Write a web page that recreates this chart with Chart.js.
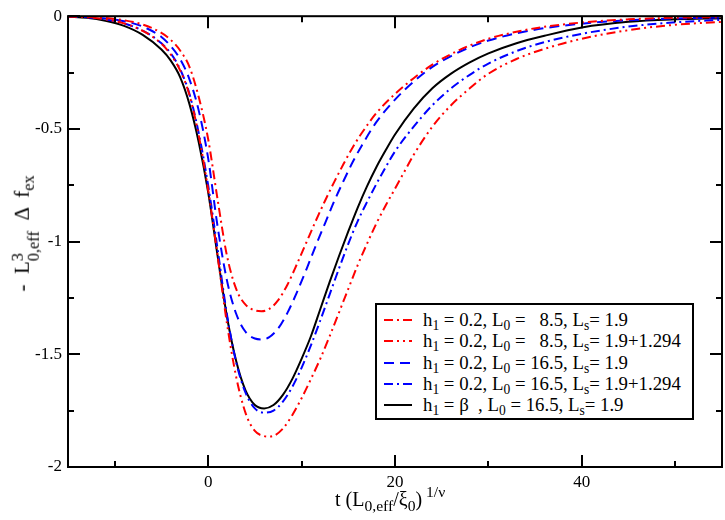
<!DOCTYPE html>
<html>
<head>
<meta charset="utf-8">
<script src="https://cdn.jsdelivr.net/npm/chart.js@4/dist/chart.umd.min.js"></script>
<style>
  html, body { margin: 0; padding: 0; background: #fff; }
  #wrap { position: relative; width: 725px; height: 520px; font-family: "Liberation Serif", "Times New Roman", Times, serif; color: #000; }
  #c { position: absolute; left: 0; top: 0; }
  .title { position: absolute; font-size: 20px; white-space: pre; line-height: 1; }
  #ytitle { font-size: 21px; }
  .title sub { font-size: 0.78em; vertical-align: -0.3em; line-height: 0; }
  .title sup { font-size: 0.78em; vertical-align: 0.6em; line-height: 0; }
  .ss { display: inline-block; vertical-align: -0.62em; font-size: 0.78em; line-height: 1.0; }
  .ss span { display: block; }
  #legend { position: absolute; left: 375px; top: 303px; width: 315px; height: 113px; border: 2px solid #000; background: #fff; }
  .row { position: absolute; left: 0; height: 21px; width: 315px; font-size: 18.8px; white-space: pre; line-height: 21px; }
  .row sub { font-size: 0.72em; vertical-align: -0.3em; line-height: 0; }
  .row svg { position: absolute; left: 6px; top: 0; }
  .row .txt { position: absolute; left: 46px; top: 0; }
</style>
</head>
<body>
<div id="wrap">
  <canvas id="c" width="725" height="520"></canvas>
  <div class="title" id="xtitle">t (L<sub>0,eff</sub>/ξ<sub>0</sub>)<sup> 1/ν</sup></div>
  <div class="title" id="ytitle">-  L<span class="ss"><span>3</span><span>0,eff</span></span>  Δ  f<sub>ex</sub></div>
  <div id="legend"></div>
</div>
<script>
// ---- data ----
// h1 = 0.2, L0 = 8.5, Ls = 1.9  (red dash-dot)
const xA = [-15,-13,-11,-9,-7,-5,-4,-3,-2,-1,0,1,2,3,4,5,5.7,6.5,7.5,8.5,9.5,10.5,11.5,12.5,13.5,14.5,15.5,16.5,18,20,22,24,26,28,30,33,36,40,45,50,55];
const yA = [-0.001,-0.003,-0.008,-0.018,-0.037,-0.074,-0.105,-0.152,-0.225,-0.36,-0.545,-0.81,-1.06,-1.21,-1.28,-1.305,-1.309,-1.3,-1.26,-1.19,-1.1,-1.005,-0.91,-0.82,-0.735,-0.655,-0.58,-0.515,-0.43,-0.345,-0.275,-0.215,-0.168,-0.13,-0.1,-0.069,-0.047,-0.028,-0.014,-0.007,-0.004];
// h1 = 0.2, L0 = 8.5, Ls = 1.9+1.294  (red dash-dot-dot)
const xB = [-15,-13,-11,-9,-7,-5,-4,-3,-2,-1,0,1,2,3,4,5,6,6.5,7,8,9,10,11,12,13,14,15,16,17,18,19,20,21,22,24,26,28,30,33,36,40,45,50,55];
const yB = [-0.001,-0.005,-0.014,-0.032,-0.065,-0.122,-0.17,-0.24,-0.35,-0.53,-0.77,-1.06,-1.36,-1.6,-1.76,-1.84,-1.863,-1.865,-1.862,-1.83,-1.77,-1.695,-1.61,-1.52,-1.42,-1.315,-1.21,-1.105,-1.01,-0.92,-0.84,-0.765,-0.69,-0.615,-0.49,-0.395,-0.32,-0.255,-0.19,-0.145,-0.1,-0.062,-0.038,-0.025];
// h1 = 0.2, L0 = 16.5, Ls = 1.9  (blue dashed)
const xC = [-15,-13,-11,-9,-7,-5,-4,-3,-2,-1,0,1,2,3,4,5,5.7,6.5,7.5,8.5,9.5,10.5,11.5,12.5,13.5,14.5,15.5,16.5,18,20,22,24,26,28,30,33,36,40,45,50,55];
const yC = [-0.001,-0.004,-0.01,-0.022,-0.046,-0.092,-0.133,-0.19,-0.28,-0.42,-0.63,-0.93,-1.17,-1.32,-1.4,-1.43,-1.434,-1.425,-1.385,-1.315,-1.225,-1.125,-1.02,-0.92,-0.82,-0.73,-0.645,-0.57,-0.47,-0.37,-0.29,-0.225,-0.177,-0.138,-0.108,-0.076,-0.053,-0.033,-0.018,-0.01,-0.006];
// h1 = 0.2, L0 = 16.5, Ls = 1.9+1.294  (blue dash-dot)
const xD = [-15,-13,-11,-9,-7,-5,-4,-3,-2,-1,0,1,2,3,4,5,6,7,8,9,10,11,12,13,14,15,16,17,18,19,20,22,24,26,28,30,33,36,40,45,50,55];
const yD = [-0.001,-0.005,-0.014,-0.032,-0.064,-0.12,-0.165,-0.235,-0.345,-0.52,-0.75,-1.03,-1.32,-1.535,-1.67,-1.74,-1.759,-1.75,-1.71,-1.645,-1.56,-1.46,-1.35,-1.235,-1.12,-1.01,-0.91,-0.825,-0.745,-0.67,-0.6,-0.49,-0.395,-0.32,-0.26,-0.21,-0.155,-0.115,-0.078,-0.046,-0.027,-0.016];
// h1 = beta, L0 = 16.5, Ls = 1.9  (black solid)
const xE = [-15,-13,-11,-9,-7,-5,-4,-3,-2,-1,0,1,2,3,4,5,6,7,8,9,10,11,12,13,14,15,16,17,18,19,20,22,24,26,28,30,33,36,40,45,50,55];
const yE = [-0.002,-0.007,-0.02,-0.043,-0.083,-0.148,-0.197,-0.27,-0.39,-0.56,-0.78,-1.06,-1.33,-1.53,-1.66,-1.725,-1.74,-1.725,-1.68,-1.61,-1.52,-1.42,-1.3,-1.18,-1.065,-0.955,-0.85,-0.755,-0.67,-0.595,-0.525,-0.41,-0.32,-0.255,-0.205,-0.165,-0.12,-0.087,-0.05,-0.025,-0.014,-0.009];

const xTickValues = [0, 20, 40];
const xMinorValues = [-10, 10, 30, 50];
const yTickValues = [0, -0.5, -1, -1.5, -2];
const yMinorValues = [-0.25, -0.75, -1.25, -1.75];
const seriesLabels = [
  'h<sub>1</sub> = 0.2, L<sub>0</sub> =   8.5, L<sub>s</sub>= 1.9',
  'h<sub>1</sub> = 0.2, L<sub>0</sub> =   8.5, L<sub>s</sub>= 1.9+1.294',
  'h<sub>1</sub> = 0.2, L<sub>0</sub> = 16.5, L<sub>s</sub>= 1.9',
  'h<sub>1</sub> = 0.2, L<sub>0</sub> = 16.5, L<sub>s</sub>= 1.9+1.294',
  'h<sub>1</sub> = β  , L<sub>0</sub> = 16.5, L<sub>s</sub>= 1.9'
];

// ---- styles ----
const styles = [
  { color: '#ff0000', dash: [9, 4, 2, 4] },
  { color: '#ff0000', dash: [9, 4, 2, 4, 2, 4] },
  { color: '#0000ff', dash: [10, 6] },
  { color: '#0000ff', dash: [9, 4, 2, 4] },
  { color: '#000000', dash: [] }
];
const series = [[xA, yA], [xB, yB], [xC, yC], [xD, yD], [xE, yE]];

const datasets = series.map((s, i) => ({
  label: seriesLabels[i].replace(/<[^>]+>/g, ''),
  data: s[0].map((x, k) => ({ x: x, y: s[1][k] })),
  showLine: true,
  borderColor: styles[i].color,
  borderDash: styles[i].dash,
  borderWidth: 2,
  pointRadius: 0,
  fill: false,
  cubicInterpolationMode: 'monotone'
}));

const fontTick = { family: '"Liberation Serif", "Times New Roman", Times, serif', size: 17 };

const framePlugin = {
  id: 'frame',
  afterDatasetsDraw(chart) {
    const { ctx, chartArea: a, scales } = chart;
    ctx.save();
    ctx.strokeStyle = '#000';
    ctx.lineWidth = 2;
    ctx.setLineDash([]);
    const xs = scales.x, ys = scales.y;
    const tick = (vals, len, horiz) => {
      vals.forEach(v => {
        if (horiz) {
          const px = Math.round(xs.getPixelForValue(v));
          ctx.beginPath(); ctx.moveTo(px, a.bottom); ctx.lineTo(px, a.bottom - len); ctx.stroke();
          ctx.beginPath(); ctx.moveTo(px, a.top); ctx.lineTo(px, a.top + len); ctx.stroke();
        } else {
          const py = Math.round(ys.getPixelForValue(v));
          ctx.beginPath(); ctx.moveTo(a.left, py); ctx.lineTo(a.left + len, py); ctx.stroke();
          ctx.beginPath(); ctx.moveTo(a.right, py); ctx.lineTo(a.right - len, py); ctx.stroke();
        }
      });
    };
    tick(xTickValues, 12, true);
    tick(xMinorValues, 6, true);
    tick(yTickValues, 12, false);
    tick(yMinorValues, 6, false);
    ctx.strokeRect(a.left, a.top, a.right - a.left, a.bottom - a.top);
    ctx.restore();
  }
};

new Chart(document.getElementById('c'), {
  type: 'scatter',
  data: { datasets },
  plugins: [framePlugin],
  options: {
    responsive: false,
    animation: false,
    layout: { padding: { top: 8, right: 3, left: 0, bottom: 0 } },
    plugins: { legend: { display: false }, tooltip: { enabled: false } },
    scales: {
      x: {
        type: 'linear', min: -15, max: 55,
        grid: { display: false, drawTicks: false },
        border: { display: false },
        ticks: { font: fontTick, color: '#000', padding: 5, maxRotation: 0, autoSkip: false },
        afterBuildTicks: s => { s.ticks = xTickValues.map(v => ({ value: v })); },
        afterFit: s => { s.height = 53; }
      },
      y: {
        type: 'linear', min: -2, max: 0,
        grid: { display: false, drawTicks: false },
        border: { display: false },
        ticks: { font: fontTick, color: '#000', padding: 6, autoSkip: false,
                 callback: v => String(v) },
        afterBuildTicks: s => { s.ticks = yTickValues.map(v => ({ value: v })); },
        afterFit: s => { s.width = 68; }
      }
    }
  }
});

// ---- HTML legend & titles ----
const legend = document.getElementById('legend');
seriesLabels.forEach((lab, i) => {
  const row = document.createElement('div');
  row.className = 'row';
  row.style.top = (4 + i * 21.3) + 'px';
  const st = styles[i];
  row.innerHTML = '<svg width="30" height="21"><line x1="1" y1="11" x2="29" y2="11" stroke="' + st.color +
    '" stroke-width="2" stroke-dasharray="' + (st.dash.length ? st.dash.join(' ') : 'none') + '"/></svg>' +
    '<span class="txt">' + lab + '</span>';
  legend.appendChild(row);
});
const xt = document.getElementById('xtitle');
xt.style.left = (390 - xt.offsetWidth / 2) + 'px';
xt.style.top = '489px';
const yt = document.getElementById('ytitle');
yt.style.left = (26 - yt.offsetWidth / 2) + 'px';
yt.style.top = (233 - yt.offsetHeight / 2) + 'px';
yt.style.transform = 'rotate(-90deg)';
</script>
</body>
</html>
